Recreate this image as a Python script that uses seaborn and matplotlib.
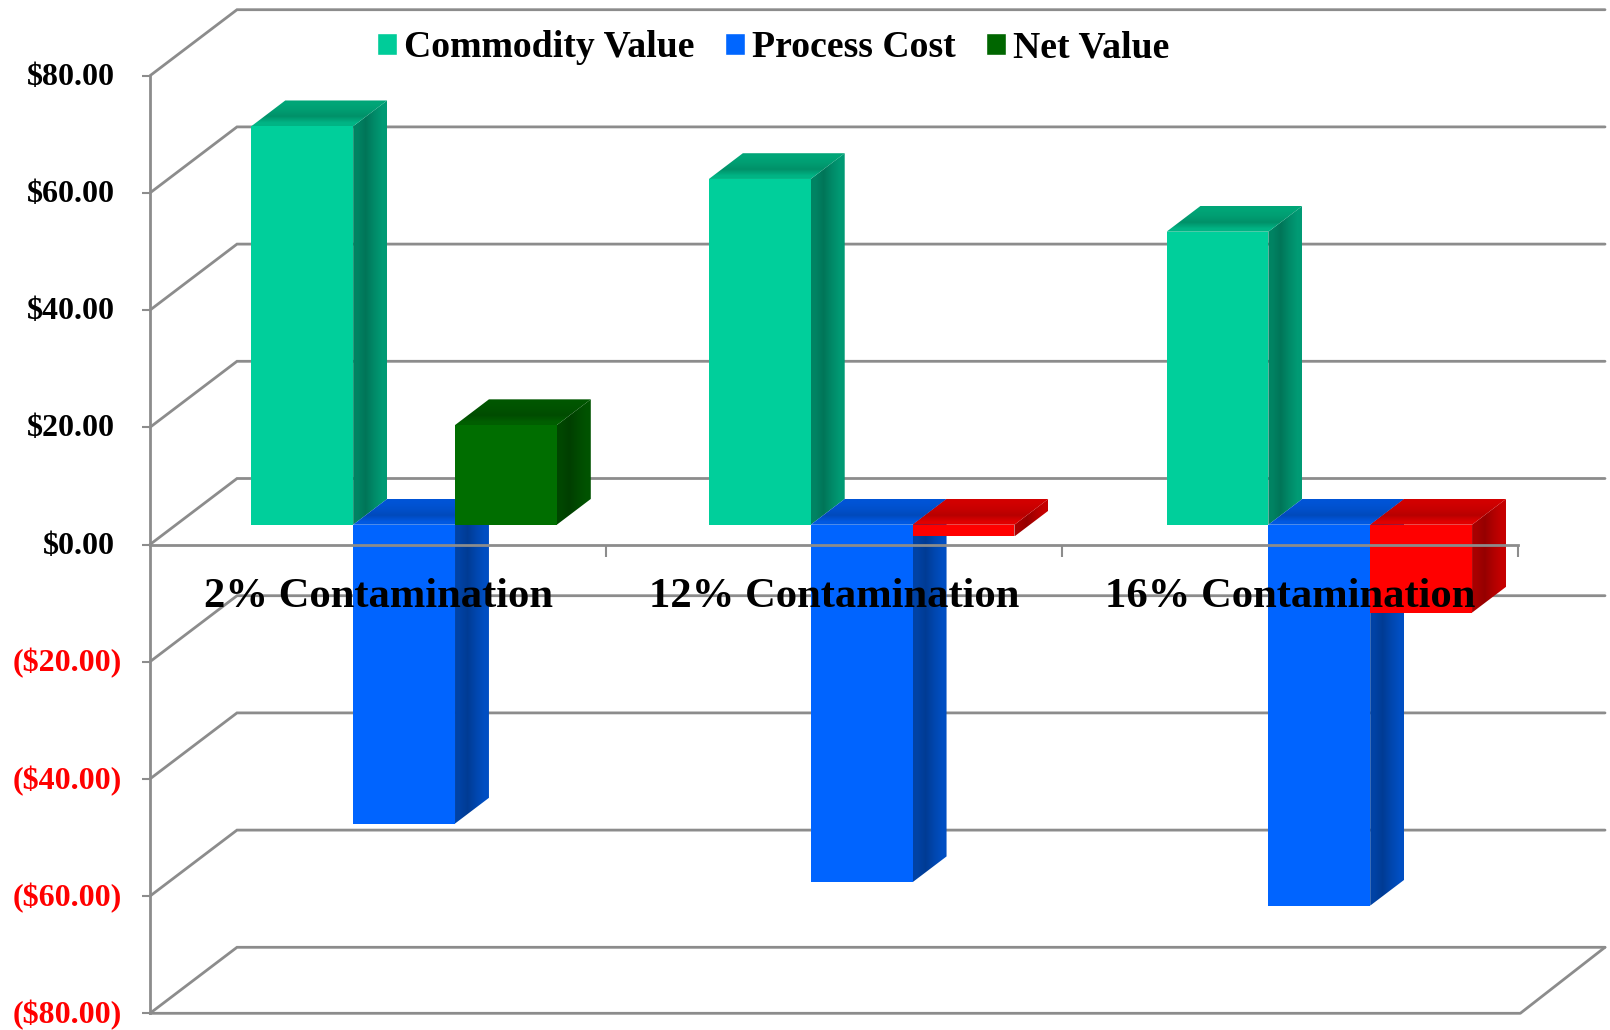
import matplotlib
matplotlib.use("Agg")
import matplotlib.pyplot as plt
import numpy as np
import pandas as pd
import seaborn as sns
from matplotlib.colors import to_rgb
from matplotlib.patches import Polygon
from matplotlib.transforms import Affine2D, ScaledTranslation

categories = ["2% Contamination", "12% Contamination", "16% Contamination"]
series_names = ["Commodity Value", "Process Cost", "Net Value"]
commodity_value = [68, 59, 50]
process_cost = [-51, -61, -65]
net_value = [17, -2, -15]
y_ticks = [80, 60, 40, 20, 0, -20, -40, -60, -80]
y_labels = ["$80.00", "$60.00", "$40.00", "$20.00", "$0.00",
            "($20.00)", "($40.00)", "($60.00)", "($80.00)"]

palette = {"Commodity Value": "#00CC99", "Process Cost": "#0066FF", "Net Value": "#006600"}
# front, side, top shades
shades = {"#00CC99": ("#00CF9B", "#008A68", "#009E72"),
          "#0066FF": ("#0064FF", "#0046AE", "#0050CC"),
          "#006600": ("#006E00", "#004A00", "#005200"),
          "#FF0000": ("#FF0000", "#B00000", "#C80000")}

sns.set_theme(style="white")
plt.rcParams["font.family"] = ["Liberation Serif", "DejaVu Sans"]
plt.rcParams["font.weight"] = "bold"

fig = plt.figure(figsize=(16.10, 10.30), dpi=100)
ax = fig.add_axes([150 / 1610, 1 - 1013.3 / 1030, 1368 / 1610, 937.6 / 1030])

df = pd.DataFrame({
    "category": categories * 3,
    "series": [s for s in series_names for _ in categories],
    "value": commodity_value + process_cost + net_value,
})
sns.barplot(data=df, x="category", y="value", hue="series", order=categories,
            hue_order=series_names, palette=palette, width=0.67, gap=0,
            saturation=1, errorbar=None, ax=ax)
handles, labels = ax.get_legend_handles_labels()

ax.set_xlabel("")
ax.set_ylabel("")

# 3-D projection expressed in data units
depth_x = 87 / 456
depth_y = 66 / 5.86
grid_col = "#8C8C8C"
lw = 2.0

# walls
for v in y_ticks:
    ax.plot([-0.5, -0.5 + depth_x, 2.5 + depth_x], [v, v + depth_y, v + depth_y],
            color=grid_col, lw=lw, clip_on=False, zorder=0.5, solid_joinstyle="miter")
ax.plot([-0.5, 2.5 + 0.005, 2.5 + depth_x], [-80, -80, -80 + depth_y], color=grid_col, lw=lw,
        clip_on=False, zorder=0.5)


def shade(col, f):
    return tuple(min(1, c * f) for c in to_rgb(col))


def mix(a, b, t):
    a, b = np.array(to_rgb(a)), np.array(to_rgb(b))
    return tuple(a + (b - a) * t)


def gradient_face(corners, stops, horizontal, trans, z):
    """Fill a parallelogram with a smooth colour ramp along x or y."""
    poly = Polygon(corners, closed=True, fc="none", ec="none", transform=trans)
    ax.add_patch(poly)
    ramp = np.array([to_rgb(c) for c in stops])
    xs = [p[0] for p in corners]
    ys = [p[1] for p in corners]
    if horizontal:
        img = ramp[np.newaxis, :, :]
    else:
        img = ramp[:, np.newaxis, :]
    im = ax.imshow(img, extent=(min(xs), max(xs), min(ys), max(ys)), origin="lower",
                   aspect="auto", interpolation="bilinear", zorder=z, transform=trans)
    im.set_clip_path(poly)


# bars sit part way into the depth of the floor
fx, fy = 0.30 * depth_x, 0.30 * depth_y
bx, by = 0.39 * depth_x, 0.39 * depth_y
group_nudge = 1.6 / 456

for i, container in enumerate(ax.containers):
    z = 1 + 0.1 * i
    for k, bar in enumerate(container):
        bar_trans = Affine2D().translate(fx + k * group_nudge, fy) + ax.transData
        x0, w, val = bar.get_x(), bar.get_width(), bar.get_height()
        col = "#FF0000" if (i == 2 and val < 0) else list(palette.values())[i]
        front, side, top = shades[col]
        bar.set_transform(bar_trans)
        bar.set_facecolor(front)
        bar.set_edgecolor("none")
        bar.set_zorder(z + 0.02)
        bar.set_clip_on(False)
        x1 = x0 + w
        hi = max(val, 0)
        lo = min(val, 0)
        side_stops = [shade(side, 0.95), shade(side, 0.85), shade(side, 1.0), shade(side, 1.12)]
        top_stops = [mix(front, top, 0.55), shade(top, 0.92), shade(top, 1.0), shade(top, 1.05)]
        gradient_face([(x1, lo), (x1 + bx, lo + by), (x1 + bx, hi + by), (x1, hi)],
                      side_stops, True, bar_trans, z)
        gradient_face([(x0, hi), (x0 + bx, hi + by), (x1 + bx, hi + by), (x1, hi)],
                      top_stops, False, bar_trans, z + 0.01)

ax.set_xlim(-0.5, 2.5)
ax.set_ylim(-80, 80)
ax.set_aspect("auto")

# axes
ax.set_axisbelow(False)
for s in ("top", "right"):
    ax.spines[s].set_visible(False)
ax.spines["left"].set_color(grid_col)
ax.spines["left"].set_linewidth(lw)
ax.spines["bottom"].set_position(("data", 0))
ax.spines["bottom"].set_color(grid_col)
ax.spines["bottom"].set_linewidth(lw)

ax.set_yticks(y_ticks)
ax.set_yticklabels(y_labels, fontsize=23, fontweight="bold")
ax.tick_params(axis="y", left=True, length=6, width=1.5, color=grid_col)
label_shift = ScaledTranslation(0, 1.3 / 72, fig.dpi_scale_trans)
for tick, v in zip(ax.yaxis.get_major_ticks(), y_ticks):
    tick.set_pad(19 if v >= 0 else 14.3)
    tick.label1.set_color("red" if v < 0 else "black")
    tick.label1.set_transform(tick.label1.get_transform() + label_shift)

ax.set_xticks([0, 1, 2])
ax.set_xticklabels(categories, fontsize=30.7, fontweight="bold", color="black")
ax.set_xticks([0.5, 1.5, 2.5], minor=True)
ax.tick_params(axis="x", which="major", bottom=True, length=0, pad=24)
ax.tick_params(axis="x", which="minor", bottom=True, length=8.5, width=1.5, color=grid_col)

ax.legend(handles, labels, ncol=3, frameon=False, fontsize=27.2, labelcolor="black",
          loc="upper left", bbox_to_anchor=(377 / 1610, 1 - 30 / 1030),
          bbox_transform=fig.transFigure, borderpad=0, borderaxespad=0,
          handlelength=0.525, handleheight=0.525, handletextpad=0.2, columnspacing=0.79,
          labelspacing=0)

fig.savefig("out.png", dpi=100, facecolor="white")
